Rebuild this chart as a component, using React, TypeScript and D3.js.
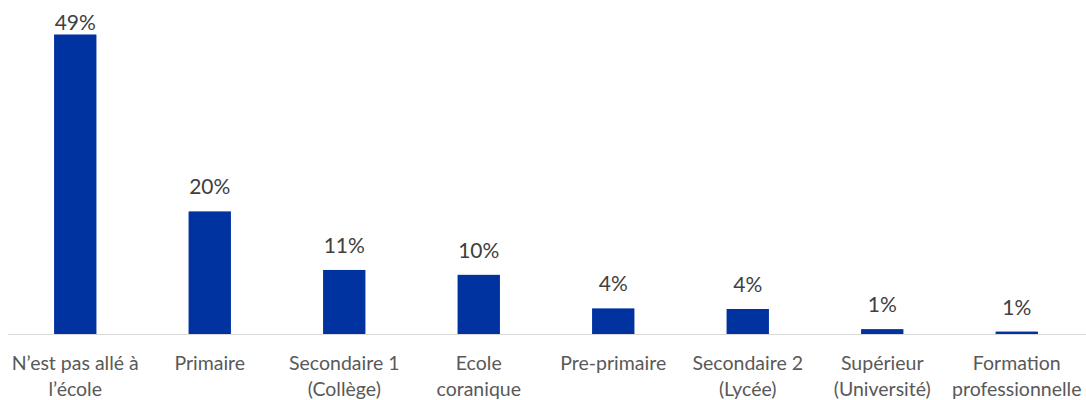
import React from "react";
import * as d3 from "d3";

const categories: string[][] = [
  ["N’est pas allé à", "l’école"],
  ["Primaire"],
  ["Secondaire 1", "(Collège)"],
  ["Ecole", "coranique"],
  ["Pre-primaire"],
  ["Secondaire 2", "(Lycée)"],
  ["Supérieur", "(Université)"],
  ["Formation", "professionnelle"],
];
const values: number[] = [49.1, 20.1, 10.5, 9.7, 4.2, 4.1, 0.8, 0.4];
const valueLabels: string[] = ["49%", "20%", "11%", "10%", "4%", "4%", "1%", "1%"];

const W = 1086;
const H = 400;
const FONT = "Lato, 'Open Sans', sans-serif";

export default function App() {
  const keys = categories.map((_, i) => String(i));
  const x = d3
    .scaleBand<string>()
    .domain(keys)
    .range([8, 1084])
    .paddingInner(0.685)
    .paddingOuter(0.3425);
  const y = d3.scaleLinear().domain([0, 50]).range([334, 29]);
  const bw = x.bandwidth();

  return (
    <svg
      width={W}
      height={H}
      style={{ position: "absolute", left: 0, top: 0, background: "#fff" }}
      fontFamily={FONT}
    >
      <rect x={0} y={0} width={W} height={H} fill="#fff" />
      {values.map((v, i) => {
        const bx = x(keys[i]) as number;
        return (
          <rect
            key={"b" + i}
            x={bx}
            y={y(v)}
            width={bw}
            height={y(0) - y(v)}
            fill="#0033A0"
          />
        );
      })}
      <line x1={8} x2={W} y1={y(0) + 0.5} y2={y(0) + 0.5} stroke="#D9D9D9" strokeWidth={1} />
      {values.map((v, i) => {
        const cx = (x(keys[i]) as number) + bw / 2;
        const ly = Math.max(30, y(v) - 17);
        return (
          <text
            key={"l" + i}
            x={cx}
            y={ly}
            textAnchor="middle"
            fontSize={21}
            fill="#404040"
          >
            {valueLabels[i]}
          </text>
        );
      })}
      {categories.map((lines, i) => {
        const cx = (x(keys[i]) as number) + bw / 2;
        return (
          <text key={"c" + i} textAnchor="middle" fontSize={19.5} fill="#595959">
            {lines.map((ln, j) => (
              <tspan key={j} x={cx} y={370 + j * 26}>
                {ln}
              </tspan>
            ))}
          </text>
        );
      })}
    </svg>
  );
}
